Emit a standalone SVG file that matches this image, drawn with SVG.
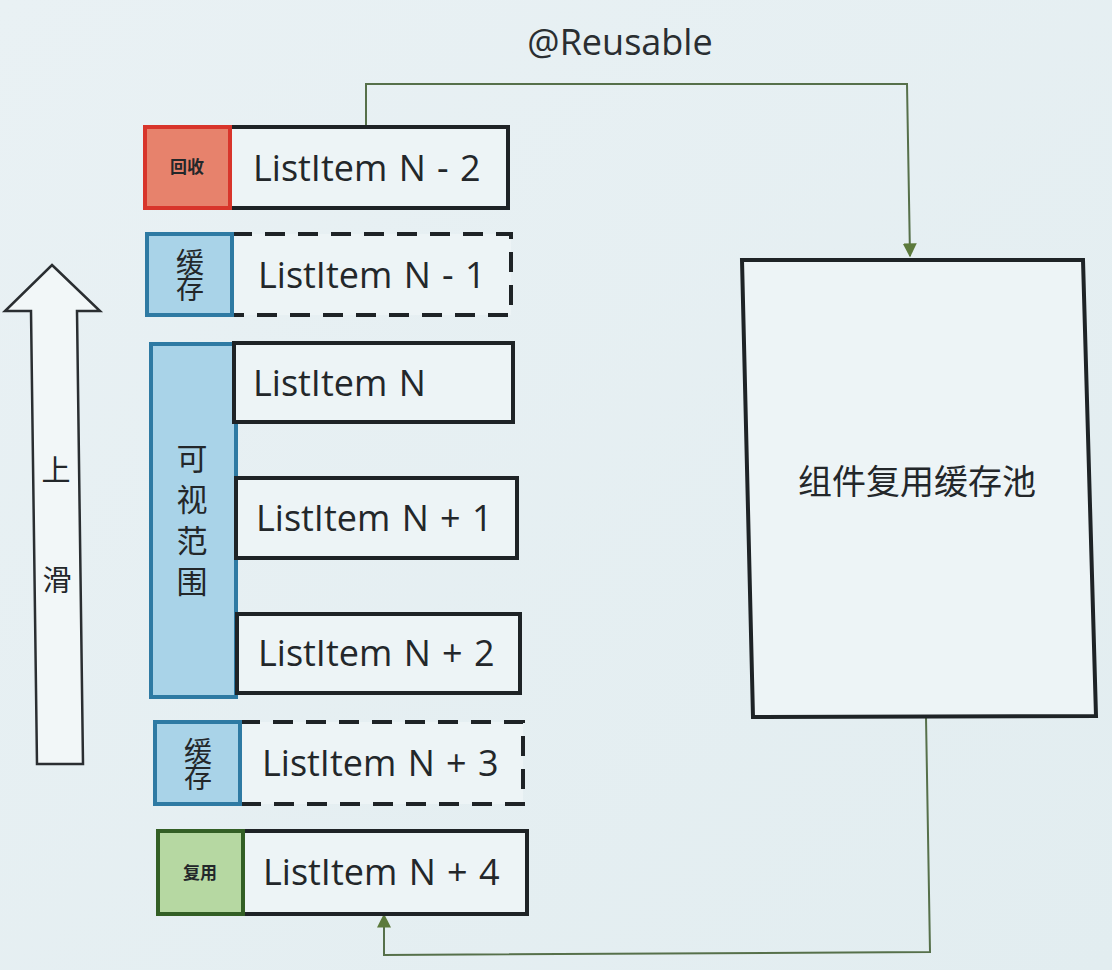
<svg xmlns="http://www.w3.org/2000/svg" width="1112" height="970" viewBox="0 0 1112 970">
<defs>
<linearGradient id="bg" x1="0" y1="0" x2="1" y2="1">
<stop offset="0" stop-color="#e9f1f4"/>
<stop offset="1" stop-color="#e2edf0"/>
</linearGradient>
<marker id="ah2" viewBox="0 0 10 10" refX="9" refY="5" markerWidth="14" markerHeight="14" orient="auto" markerUnits="userSpaceOnUse">
<path d="M0,0 L10,5 L0,10 z" fill="#5c7a3c"/>
</marker>
</defs>
<style>
.item{fill:#edf4f6;stroke:#1e2326;stroke-width:4}
.dash{fill:#edf4f6;stroke:#1e2326;stroke-width:4;stroke-dasharray:20 13}
.red{fill:#e7826c;stroke:#d8352b;stroke-width:4}
.blue{fill:#a9d3e8;stroke:#2e7aa3;stroke-width:4}
.green{fill:#b6d8a2;stroke:#335f25;stroke-width:4}
.lt{font-family:"Open Sans","Noto Sans","Liberation Sans",sans-serif;font-size:36px;fill:#23272a;word-spacing:2px}
.cn{font-family:"Noto Sans CJK SC","Noto Sans",sans-serif;fill:#23272a;text-anchor:middle}
.vt{font-family:"Noto Sans CJK SC","Noto Sans",sans-serif;fill:#23272a;text-anchor:middle;writing-mode:vertical-rl}
.conn{fill:none;stroke:#56704a;stroke-width:2}
</style>
<rect x="0" y="0" width="1112" height="970" fill="url(#bg)"/>
<text x="620" y="55" font-family="Open Sans,Noto Sans,Liberation Sans,sans-serif" font-size="36" fill="#2a2e31" text-anchor="middle">@Reusable</text>

<g id="connectors">
<path class="conn" d="M366,127 L366,84 L907,84 L910,256" marker-end="url(#ah2)"/>
<path class="conn" d="M926,717 L930,952 L384,955 L384,915" marker-end="url(#ah2)"/>
</g>

<g id="slide-arrow">
<path d="M52,265 L100,311 L77,311 L83,764 L37,764 L31,311 L5,311 Z" fill="#f2f7f8" stroke="#2a2e31" stroke-width="2.5" stroke-linejoin="miter"/>
<text class="cn" x="56" y="481" font-size="29">上</text>
<text class="cn" x="57" y="591" font-size="29">滑</text>
</g>

<g id="item-n-2">
<rect class="item" x="230" y="127" width="278" height="81"/>
<rect class="red" x="145" y="127" width="85" height="81"/>
<text class="cn" x="187" y="173" font-size="17" font-weight="700">回收</text>
<text class="lt" x="253" y="181">ListItem N - 2</text>
</g>

<g id="item-n-1">
<path class="dash" d="M232,234 L511,234 L511,315 L232,315"/>
<rect class="blue" x="147" y="234" width="85" height="81"/>
<text class="vt" x="190" y="274" font-size="28" letter-spacing="-2">缓存</text>
<text class="lt" x="258" y="288">ListItem N - 1</text>
</g>

<g id="visible-range">
<rect class="blue" x="151" y="344" width="85" height="353"/>
<text class="vt" x="192" y="525" font-size="31" letter-spacing="10">可视范围</text>
</g>

<g id="item-n">
<rect class="item" x="234" y="343" width="279" height="79"/>
<text class="lt" x="253" y="396">ListItem N</text>
</g>

<g id="item-n+1">
<rect class="item" x="236" y="478" width="281" height="80"/>
<text class="lt" x="256" y="531">ListItem N + 1</text>
</g>

<g id="item-n+2">
<rect class="item" x="237" y="614" width="283" height="79"/>
<text class="lt" x="258" y="666">ListItem N + 2</text>
</g>

<g id="item-n+3">
<path class="dash" d="M240,722 L523,722 L523,804 L240,804"/>
<rect class="blue" x="155" y="722" width="85" height="82"/>
<text class="vt" x="198" y="763" font-size="28" letter-spacing="-2">缓存</text>
<text class="lt" x="262" y="776">ListItem N + 3</text>
</g>

<g id="item-n+4">
<rect class="item" x="243" y="831" width="284" height="83"/>
<rect class="green" x="158" y="831" width="85" height="83"/>
<text class="cn" x="200" y="879" font-size="17" font-weight="700">复用</text>
<text class="lt" x="263" y="885">ListItem N + 4</text>
</g>

<g id="reuse-pool">
<path d="M742,260 L1083,260 L1096,716 L753,717 Z" fill="#edf4f6" stroke="#1e2326" stroke-width="4"/>
<text class="cn" x="917" y="494" font-size="34">组件复用缓存池</text>
</g>
</svg>
